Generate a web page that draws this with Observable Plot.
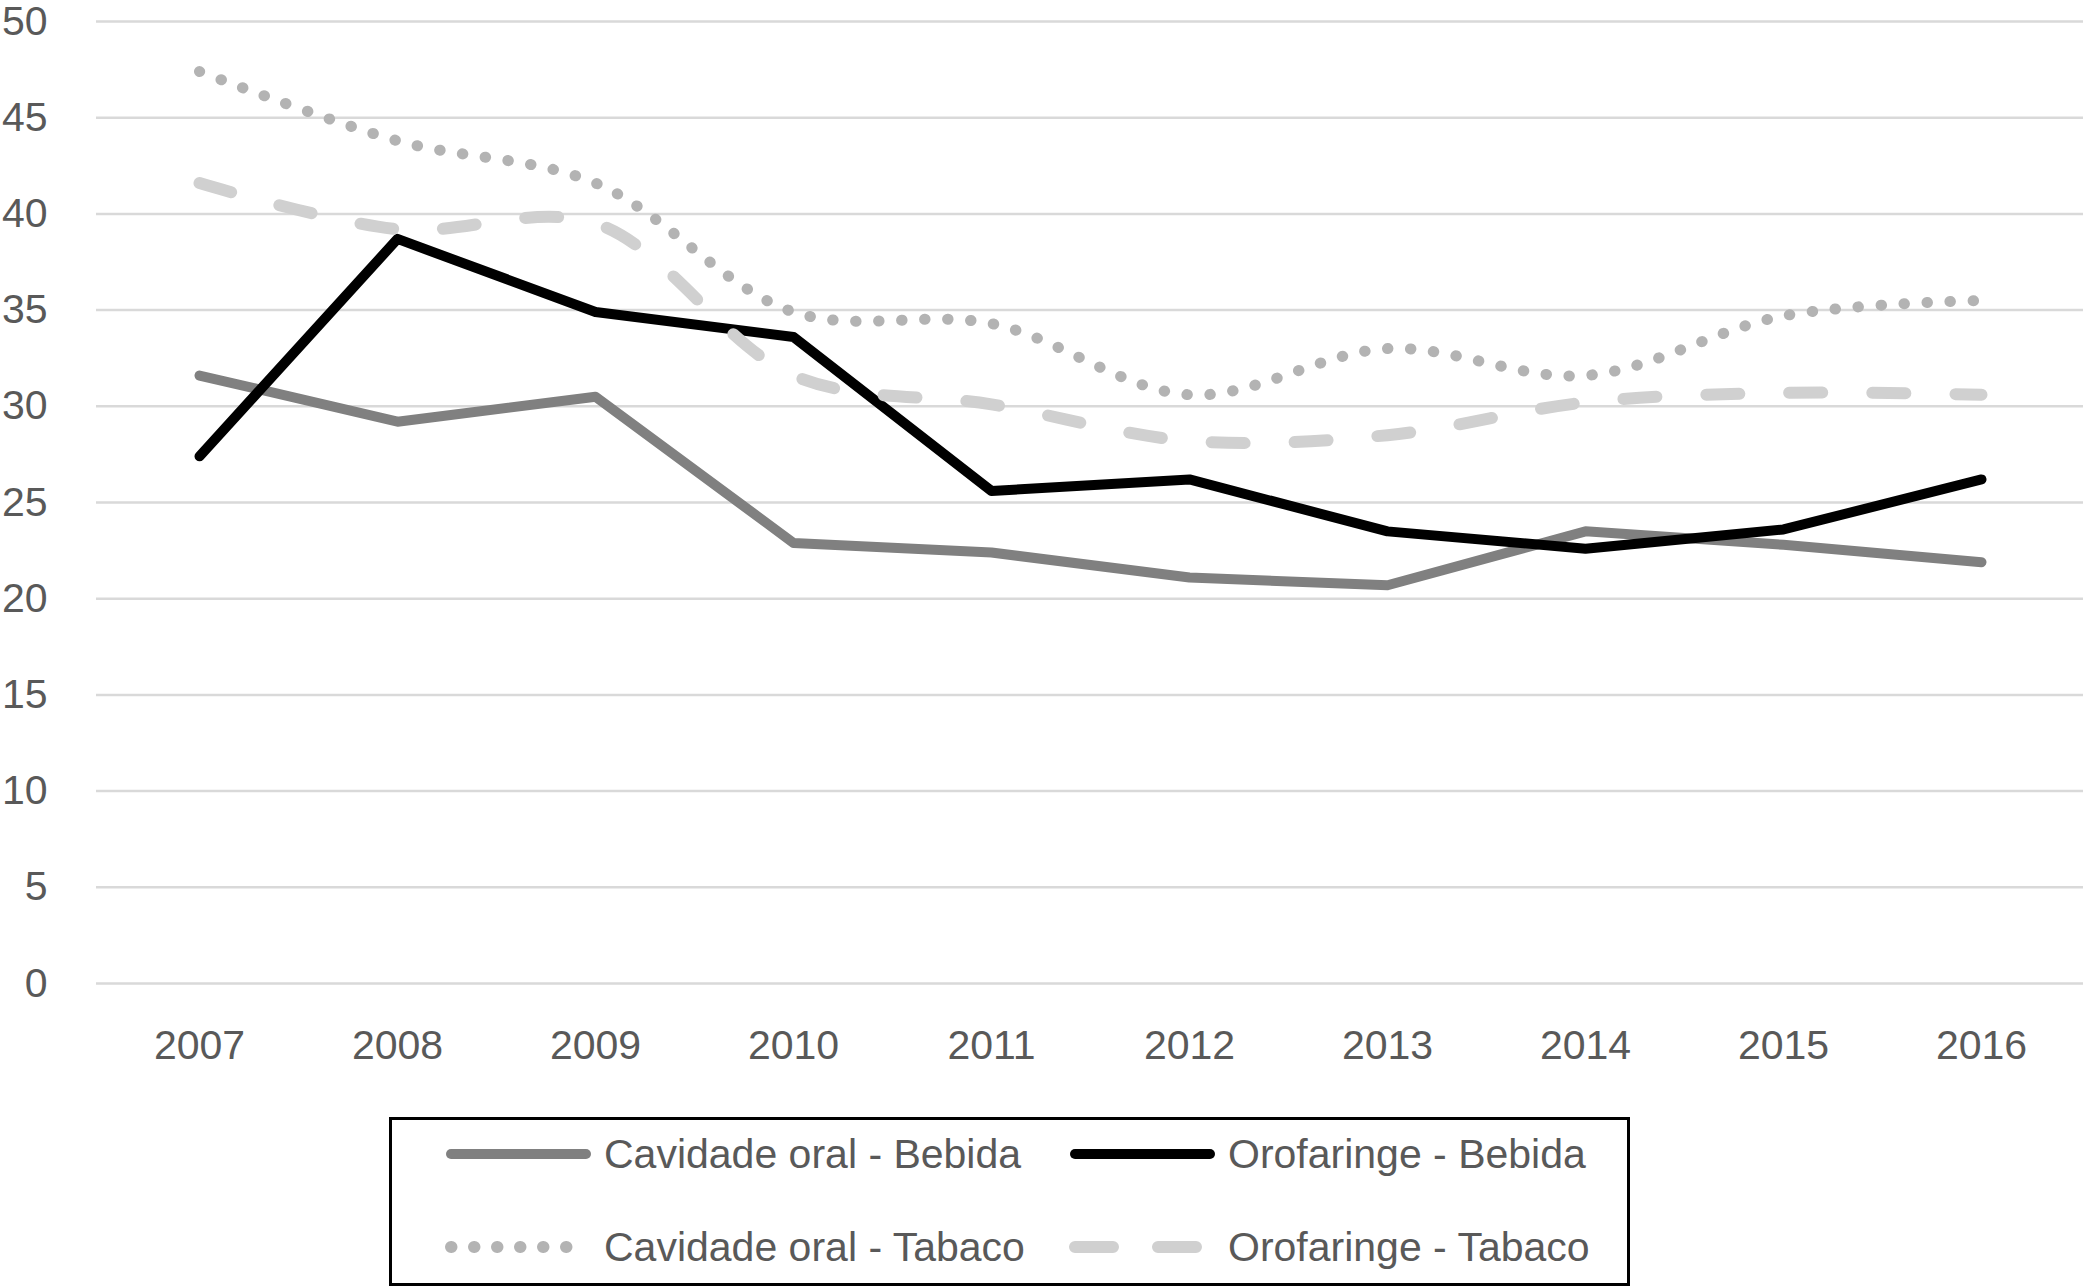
<!DOCTYPE html>
<html>
<head>
<meta charset="utf-8">
<script src="https://cdn.jsdelivr.net/npm/d3@7"></script>
<script src="https://cdn.jsdelivr.net/npm/@observablehq/plot@0.6"></script>
<style>
  body { margin: 0; background: #fff; font-family: "Liberation Sans", Arial, sans-serif; }
  #wrap { position: relative; width: 2083px; height: 1288px; overflow: hidden; }
  #chart { position: absolute; left: 0; top: 0; }
  #legend { position: absolute; left: 389px; top: 1117px; width: 1241px; height: 169px; }
</style>
</head>
<body>
<div id="wrap">
  <div id="chart"></div>
  <div id="legend"></div>
</div>
<script>
// ---- data ----
const years = [2007, 2008, 2009, 2010, 2011, 2012, 2013, 2014, 2015, 2016];
const cavOralBebida  = [31.6, 29.2, 30.5, 22.9, 22.4, 21.1, 20.7, 23.5, 22.8, 21.9];
const oroBebida      = [27.4, 38.7, 34.9, 33.6, 25.6, 26.2, 23.5, 22.6, 23.6, 26.2];
const cavOralTabaco  = [47.4, 43.8, 41.6, 34.9, 34.3, 30.6, 33.0, 31.6, 34.7, 35.5];
const oroTabaco      = [41.6, 39.2, 39.5, 31.6, 30.1, 28.2, 28.5, 30.2, 30.7, 30.6];
const seriesNames = ["Cavidade oral - Bebida", "Orofaringe - Bebida", "Cavidade oral - Tabaco", "Orofaringe - Tabaco"];
const yTicks = [0, 5, 10, 15, 20, 25, 30, 35, 40, 45, 50];

// ---- styles ----
const seriesValues = [cavOralBebida, oroBebida, cavOralTabaco, oroTabaco];
const styles = [
  {stroke: "#808080", strokeWidth: 10, dash: null,      legendDash: null,     curve: "linear"},
  {stroke: "#000000", strokeWidth: 10, dash: null,      legendDash: null,     curve: "linear"},
  {stroke: "#b3b3b3", strokeWidth: 11, dash: "0.5 22.5", legendDash: "0.5 22.5", curve: "catmull-rom"},
  {stroke: "#d0d0d0", strokeWidth: 12, dash: "33 50",   legendDash: "38 45",  curve: "catmull-rom"}
];

const table = [];
seriesNames.forEach((name, i) => {
  years.forEach((y, j) => table.push({series: name, year: y, value: seriesValues[i][j]}));
});

const lineMarks = seriesNames.map((name, i) => Plot.line(
  table.filter(d => d.series === name),
  {
    x: "year", y: "value",
    stroke: styles[i].stroke,
    strokeWidth: styles[i].strokeWidth,
    strokeDasharray: styles[i].dash,
    strokeLinecap: "round",
    strokeLinejoin: "round",
    curve: styles[i].curve
  }
));

const chart = Plot.plot({
  width: 2083,
  height: 1100,
  marginTop: 21,
  marginBottom: 117,
  marginLeft: 96,
  marginRight: 0,
  style: {fontFamily: "'Liberation Sans', Arial, sans-serif", fontSize: "41px", color: "#595959", background: "#fff", overflow: "visible"},
  x: {type: "point", domain: years, padding: 0.5, label: null},
  y: {domain: [0, 50], label: null},
  marks: [
    Plot.gridY(yTicks, {stroke: "#d9d9d9", strokeOpacity: 1, strokeWidth: 2.5}),
    Plot.axisY(yTicks, {tickSize: 0, tickPadding: 49, fontSize: 41, label: null}),
    Plot.axisX({tickSize: 0, tickPadding: 46, fontSize: 41, tickFormat: d => String(d), label: null}),
    ...lineMarks
  ]
});
document.getElementById("chart").appendChild(chart);

// ---- legend ----
const ns = "http://www.w3.org/2000/svg";
const lg = document.createElementNS(ns, "svg");
lg.setAttribute("width", 1241);
lg.setAttribute("height", 169);
lg.style.fontFamily = "'Liberation Sans', Arial, sans-serif";
const box = document.createElementNS(ns, "rect");
box.setAttribute("x", 1.5); box.setAttribute("y", 1.5);
box.setAttribute("width", 1238); box.setAttribute("height", 166);
box.setAttribute("fill", "#fff"); box.setAttribute("stroke", "#000"); box.setAttribute("stroke-width", 3);
lg.appendChild(box);
const pos = [[56, 37], [680, 37], [56, 130], [680, 130]];
seriesNames.forEach((name, i) => {
  const [x0, yc] = pos[i];
  const ln = document.createElementNS(ns, "line");
  ln.setAttribute("x1", x0 + 6); ln.setAttribute("x2", x0 + 141);
  ln.setAttribute("y1", yc); ln.setAttribute("y2", yc);
  ln.setAttribute("stroke", styles[i].stroke);
  ln.setAttribute("stroke-width", i === 2 ? 12 : styles[i].strokeWidth);
  ln.setAttribute("stroke-linecap", "round");
  if (styles[i].legendDash) ln.setAttribute("stroke-dasharray", styles[i].legendDash);
  lg.appendChild(ln);
  const t = document.createElementNS(ns, "text");
  t.setAttribute("x", x0 + 159); t.setAttribute("y", yc);
  t.setAttribute("dy", "0.35em");
  t.setAttribute("fill", "#595959");
  t.setAttribute("font-size", 41);
  t.textContent = name;
  lg.appendChild(t);
});
document.getElementById("legend").appendChild(lg);
</script>
</body>
</html>
